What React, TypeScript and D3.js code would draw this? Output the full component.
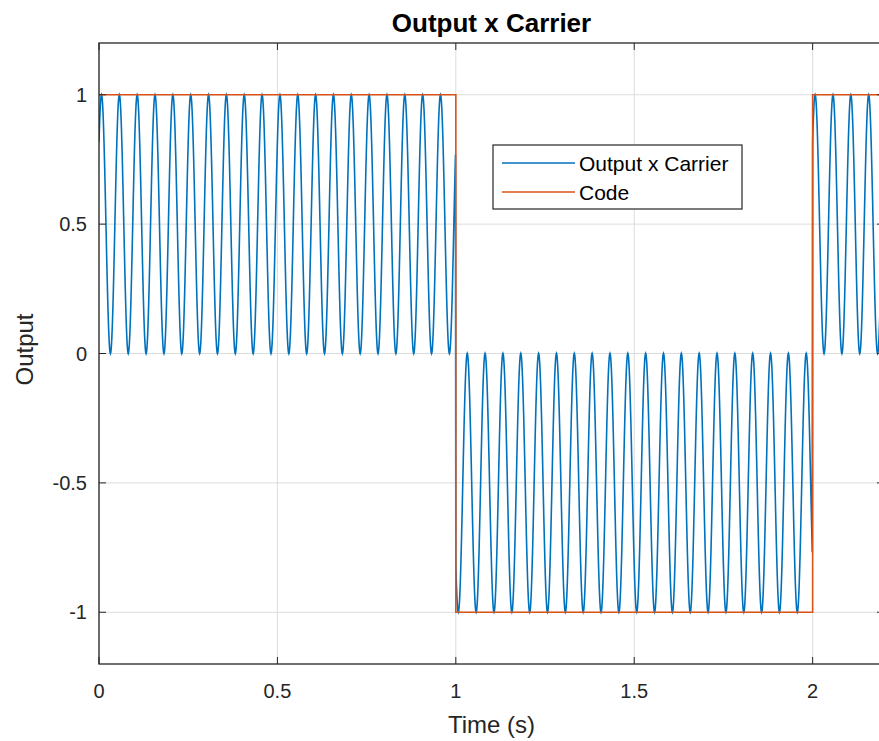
import React, { useEffect, useRef } from "react";
import * as d3 from "d3";

// Data
const codeBits: number[] = [1, -1, 1]; // one bit per second
const bitDuration = 1; // s
const carrierFreq = 20; // Hz (cycles per bit)
const carrierDelay = 0.007; // s, phase lag of carrier peaks
const sampleStep = 0.001; // s
const xTicks: number[] = [0, 0.5, 1, 1.5, 2];
const yTicks: number[] = [-1, -0.5, 0, 0.5, 1];
const xDomain: [number, number] = [0, 2.2];
const yDomain: [number, number] = [-1.2, 1.2];
const seriesNames: string[] = ["Output x Carrier", "Code"];
const seriesColors: string[] = ["#0072BD", "#D95319"];

const W = 879;
const H = 741;
const FONT = "'Liberation Sans', Arial, sans-serif";

export default function App() {
  const ref = useRef<SVGSVGElement>(null);

  useEffect(() => {
    const svg = d3.select(ref.current);
    svg.selectAll("*").remove();

    const left = 99, right = 884, top = 43, bottom = 664;
    const x = d3.scaleLinear().domain(xDomain).range([left, right]);
    const y = d3.scaleLinear().domain(yDomain).range([bottom, top]);

    svg.append("rect").attr("width", W).attr("height", H).attr("fill", "#fff");

    const defs = svg.append("defs");
    defs.append("clipPath").attr("id", "plotclip")
      .append("rect").attr("x", left).attr("y", top).attr("width", right - left).attr("height", bottom - top);

    // grid
    const g = svg.append("g");
    g.selectAll(".gx").data(xTicks).enter().append("line")
      .attr("x1", d => x(d)).attr("x2", d => x(d)).attr("y1", top).attr("y2", bottom)
      .attr("stroke", "#dcdcdc").attr("stroke-width", 1);
    g.selectAll(".gy").data(yTicks).enter().append("line")
      .attr("y1", d => y(d)).attr("y2", d => y(d)).attr("x1", left).attr("x2", right)
      .attr("stroke", "#dcdcdc").attr("stroke-width", 1);

    // signals
    const totalT = codeBits.length * bitDuration;
    const ts = d3.range(0, totalT + sampleStep / 2, sampleStep);
    const codeAt = (t: number) => codeBits[Math.min(codeBits.length - 1, Math.floor(t / bitDuration))];
    const modulated = ts.map(t => ({
      t,
      v: codeAt(t) * (1 + Math.cos(2 * Math.PI * carrierFreq * (t - carrierDelay))) / 2,
    }));
    const codeSteps: { t: number; v: number }[] = [];
    codeBits.forEach((b, i) => {
      codeSteps.push({ t: i * bitDuration, v: b });
      codeSteps.push({ t: (i + 1) * bitDuration, v: b });
    });

    const line = d3.line<{ t: number; v: number }>().x(d => x(d.t)).y(d => y(d.v));
    const plot = svg.append("g").attr("clip-path", "url(#plotclip)");
    plot.append("path").datum(modulated).attr("d", line).attr("fill", "none")
      .attr("stroke", seriesColors[0]).attr("stroke-width", 1.6);
    plot.append("path").datum(codeSteps).attr("d", line).attr("fill", "none")
      .attr("stroke", seriesColors[1]).attr("stroke-width", 1.6);

    // axes box
    svg.append("rect").attr("x", left).attr("y", top).attr("width", right - left).attr("height", bottom - top)
      .attr("fill", "none").attr("stroke", "#262626").attr("stroke-width", 1.3);

    const tl = 7;
    const axc = "#262626";
    xTicks.forEach(v => {
      svg.append("line").attr("x1", x(v)).attr("x2", x(v)).attr("y1", bottom).attr("y2", bottom - tl).attr("stroke", axc);
      svg.append("line").attr("x1", x(v)).attr("x2", x(v)).attr("y1", top).attr("y2", top + tl).attr("stroke", axc);
      svg.append("text").attr("x", x(v)).attr("y", 698).attr("text-anchor", "middle")
        .attr("font-family", FONT).attr("font-size", 20).attr("fill", axc).text(String(v));
    });
    yTicks.forEach(v => {
      svg.append("line").attr("y1", y(v)).attr("y2", y(v)).attr("x1", left).attr("x2", left + tl).attr("stroke", axc);
      svg.append("line").attr("y1", y(v)).attr("y2", y(v)).attr("x1", right).attr("x2", right - tl).attr("stroke", axc);
      svg.append("text").attr("x", left - 12).attr("y", y(v)).attr("dy", "0.36em").attr("text-anchor", "end")
        .attr("font-family", FONT).attr("font-size", 20).attr("fill", axc).text(String(v));
    });

    svg.append("text").attr("x", (left + right) / 2).attr("y", 32).attr("text-anchor", "middle")
      .attr("font-family", FONT).attr("font-size", 26).attr("font-weight", "bold").attr("fill", "#000")
      .text("Output x Carrier");
    svg.append("text").attr("x", (left + right) / 2).attr("y", 733).attr("text-anchor", "middle")
      .attr("font-family", FONT).attr("font-size", 24).attr("fill", axc).text("Time (s)");
    svg.append("text").attr("transform", `translate(33,${y(0) - 4}) rotate(-90)`).attr("text-anchor", "middle")
      .attr("font-family", FONT).attr("font-size", 24).attr("fill", axc).text("Output");

    // legend
    const lg = svg.append("g");
    lg.append("rect").attr("x", 493).attr("y", 145).attr("width", 249).attr("height", 64)
      .attr("fill", "#fff").attr("stroke", "#262626").attr("stroke-width", 1.2);
    seriesNames.forEach((name, i) => {
      const yy = 163 + i * 29;
      lg.append("line").attr("x1", 502).attr("x2", 575).attr("y1", yy).attr("y2", yy)
        .attr("stroke", seriesColors[i]).attr("stroke-width", 1.6);
      lg.append("text").attr("x", 579).attr("y", yy).attr("dy", "0.36em")
        .attr("font-family", FONT).attr("font-size", 21).attr("fill", "#000").text(name);
    });
  }, []);

  return (
    <svg ref={ref} width={W} height={H} style={{ position: "absolute", left: 0, top: 0 }} />
  );
}
